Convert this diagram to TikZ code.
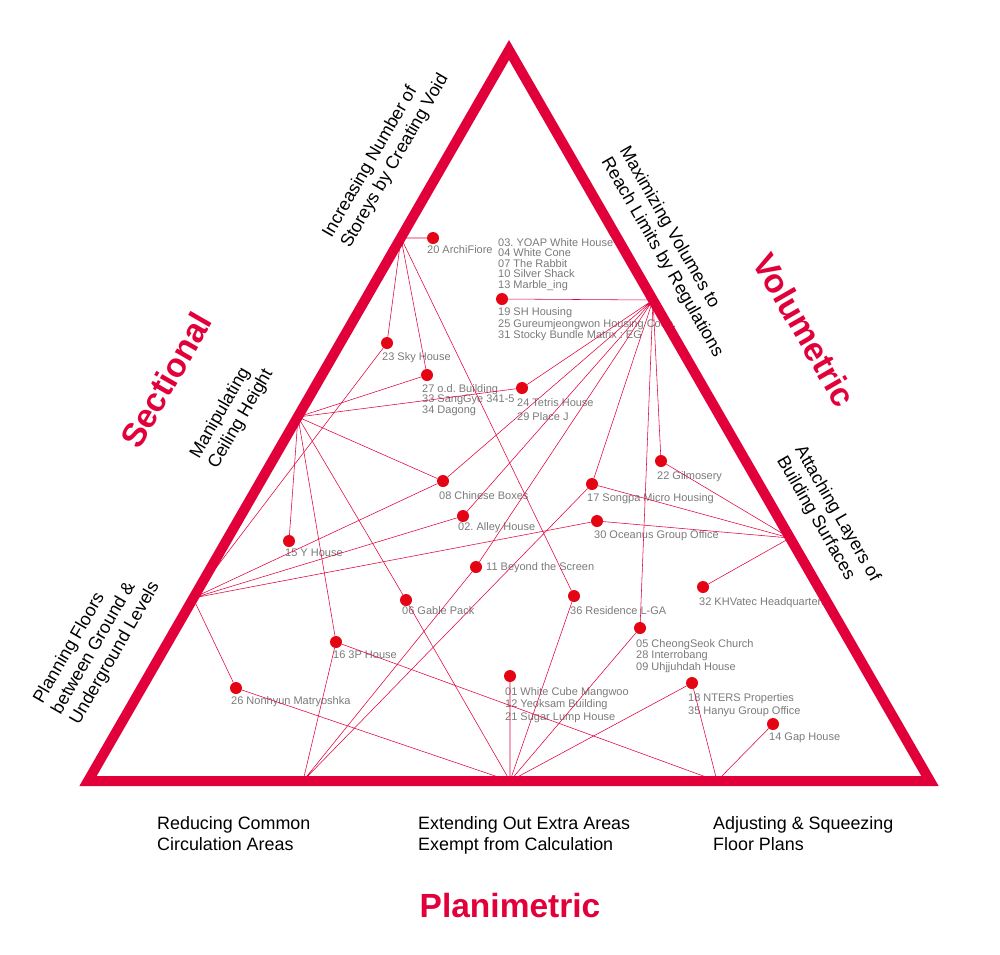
\documentclass[tikz,border=0pt]{standalone}
\usepackage{fontspec}
\setmainfont{Liberation Sans}
\usetikzlibrary{positioning}

\definecolor{crimson}{RGB}{226,0,58}
\definecolor{dotred}{RGB}{228,4,20}
\definecolor{labgray}{RGB}{122,122,122}

\begin{document}
\frenchspacing
\begin{tikzpicture}[x=1pt, y=-1pt,
    tri/.style={draw=crimson, line width=10pt, line join=miter},
    link/.style={draw=crimson, line width=0.55pt},
    proj/.style={circle, fill=dotred, inner sep=0pt, minimum size=12pt},
    lab/.style={anchor=north west, inner sep=0pt, text=labgray, align=left,
        font=\fontsize{11}{10.5}\selectfont},
    side/.style={inner sep=0pt, align=left, font=\fontsize{17.9}{21}\selectfont},
    title/.style={inner sep=0pt, text=crimson, font=\fontsize{33.5}{36}\selectfont\bfseries}]
    \useasboundingbox (0,0) rectangle (1000,954);

    % triangle corners
    \coordinate (apex) at (509,50);
    \coordinate (bl) at (88,781);
    \coordinate (br) at (930,781);
    % hubs on the sides
    \coordinate (l1) at (401,238);
    \coordinate (l2) at (298,417);
    \coordinate (l3) at (193,598);
    \coordinate (r1) at (653,300);
    \coordinate (r2) at (790,538);
    \coordinate (b1) at (303,781);
    \coordinate (b2) at (510,781);
    \coordinate (b3) at (717,781);

    % projects
    \node[proj] (p20) at (433,238) {};
    \node[proj] (p19) at (502,299) {};
    \node[proj] (p23) at (387,343) {};
    \node[proj] (p27) at (427,375) {};
    \node[proj] (p24) at (522,388) {};
    \node[proj] (p08) at (443,481) {};
    \node[proj] (p02) at (463,516) {};
    \node[proj] (p15) at (289,541) {};
    \node[proj] (p11) at (476,567) {};
    \node[proj] (p17) at (592,484) {};
    \node[proj] (p22) at (661,461) {};
    \node[proj] (p30) at (597,521) {};
    \node[proj] (p36) at (574,596) {};
    \node[proj] (p32) at (703,587) {};
    \node[proj] (p06) at (406,600) {};
    \node[proj] (p16) at (336,642) {};
    \node[proj] (p26) at (236,688) {};
    \node[proj] (p05) at (640,628) {};
    \node[proj] (p01) at (510,676) {};
    \node[proj] (p18) at (692,683) {};
    \node[proj] (p14) at (773,724) {};

    % project names
    \node[lab] (t20) at ([xshift=-6pt,yshift=-7pt]p20) {20 ArchiFiore};
    \node[lab] (t03) at ([xshift=-4pt,yshift=61pt]p19) {03. YOAP White House\\04 White Cone\\07 The Rabbit\\10 Silver Shack\\13 Marble\_ing};
    \node[lab] (t19) at ([xshift=-4pt,yshift=-8pt]p19) {19 SH Housing\\[1.8pt]25 Gureumjeongwon Housing Coop.\\[0.5pt]31 Stocky Bundle Matrix : EG};
    \node[lab] (t23) at ([xshift=-5pt,yshift=-9pt]p23) {23 Sky House};
    \node[lab] (t27) at ([xshift=-5pt,yshift=-9pt]p27) {27 o.d. Building\\33 SangGye 341-5\\34 Dagong};
    \node[lab] (t24) at ([xshift=-5pt,yshift=-10pt]p24) {24 Tetris House\\[3.5pt]29 Place J};
    \node[lab] (t08) at ([xshift=-4pt,yshift=-10pt]p08) {08 Chinese Boxes};
    \node[lab] (t02) at ([xshift=-5pt,yshift=-6pt]p02) {02. Alley House};
    \node[lab] (t15) at ([xshift=-4pt,yshift=-8pt]p15) {15 Y House};
    \node[lab, anchor=west] (t11) at ([xshift=10pt,yshift=-1pt]p11) {11 Beyond the Screen};
    \node[lab] (t17) at ([xshift=-5pt,yshift=-9pt]p17) {17 Songpa Micro Housing};
    \node[lab] (t22) at ([xshift=-4pt,yshift=-10pt]p22) {22 Gilmosery};
    \node[lab] (t30) at ([xshift=-3pt,yshift=-9pt]p30) {30 Oceanus Group Office};
    \node[lab] (t36) at ([xshift=-4pt,yshift=-10pt]p36) {36 Residence L-GA};
    \node[lab] (t32) at ([xshift=-4pt,yshift=-10pt]p32) {32 KHVatec Headquarters};
    \node[lab] (t06) at ([xshift=-4pt,yshift=-6pt]p06) {06 Gable Pack};
    \node[lab] (t16) at ([xshift=-3pt,yshift=-9pt]p16) {16 3P House};
    \node[lab] (t26) at ([xshift=-5pt,yshift=-8pt]p26) {26 Nonhyun Matryoshka};
    \node[lab] (t05) at ([xshift=-4pt,yshift=-11pt]p05) {05 CheongSeok Church\\[1.2pt]28 Interrobang\\[1.2pt]09 Uhjjuhdah House};
    \node[lab] (t01) at ([xshift=-5pt,yshift=-11pt]p01) {01 White Cube Mangwoo\\[2.2pt]12 Yeoksam Building\\[2.2pt]21 Sugar Lump House};
    \node[lab] (t18) at ([xshift=-4pt,yshift=-10pt]p18) {18 NTERS Properties\\[2.8pt]35 Hanyu Group Office};
    \node[lab] (t14) at ([xshift=-4pt,yshift=-9pt]p14) {14 Gap House};

    % links to the hubs
    \draw[link] (l1) -- (p20) (l1) -- (p23) (l1) -- (p27) (l1) -- (p36);
    \draw[link] (l2) -- (p27) (l2) -- (p24) (l2) -- (p08) (l2) -- (p15) (l2) -- (p16) (l2) -- (p06);
    \draw[link] (l3) -- (p23) (l3) -- (p08) (l3) -- (p02) (l3) -- (p30) (l3) -- (p26);
    \draw[link] (r1) -- (p19) (r1) -- (p24) (r1) -- (p08) (r1) -- (p02) (r1) -- (p11)
        (r1) -- (p17) (r1) -- (p22) (r1) -- (p05);
    \draw[link] (r2) -- (p22) (r2) -- (p17) (r2) -- (p30) (r2) -- (p32);
    \draw[link] (b1) -- (p16) (b1) -- (p11) (b1) -- (p17);
    \draw[link] (b2) -- (p26) (b2) -- (p06) (b2) -- (p01) (b2) -- (p36) (b2) -- (p05) (b2) -- (p18);
    \draw[link] (b3) -- (p16) (b3) -- (p18) (b3) -- (p14);

    \draw[tri] (apex) -- (bl) -- (br) -- cycle;

    % side labels
    \node[side, rotate=60] (void) at (386,156) {Increasing Number of\\Storeys by Creating Void};
    \node[side, rotate=60] (ceil) at (232,414) {Manipulating\\Ceiling Height};
    \node[side, rotate=60] (under) at (97,643) {Planning Floors\\between Ground \&\\Underground Levels};
    \node[side, rotate=-60] (limit) at (671,252) {Maximizing Volumes to\\Reach Limits by Regulations};
    \node[side, rotate=-60] (layer) at (828,519) {Attaching Layers of\\Building Surfaces};
    \node[side, anchor=north west] (circ) at (157,816) {Reducing Common\\Circulation Areas};
    \node[side, anchor=north west] (exempt) at (418,816) {Extending Out Extra Areas\\Exempt from Calculation};
    \node[side, anchor=north west] (squeeze) at (713,816) {Adjusting \& Squeezing\\Floor Plans};

    \node[title, rotate=60] (sec) at (166,380) {Sectional};
    \node[title, rotate=-60] (vol) at (805,330) {Volumetric};
    \node[title] (plan) at (510,906) {Planimetric};
\end{tikzpicture}
\end{document}
